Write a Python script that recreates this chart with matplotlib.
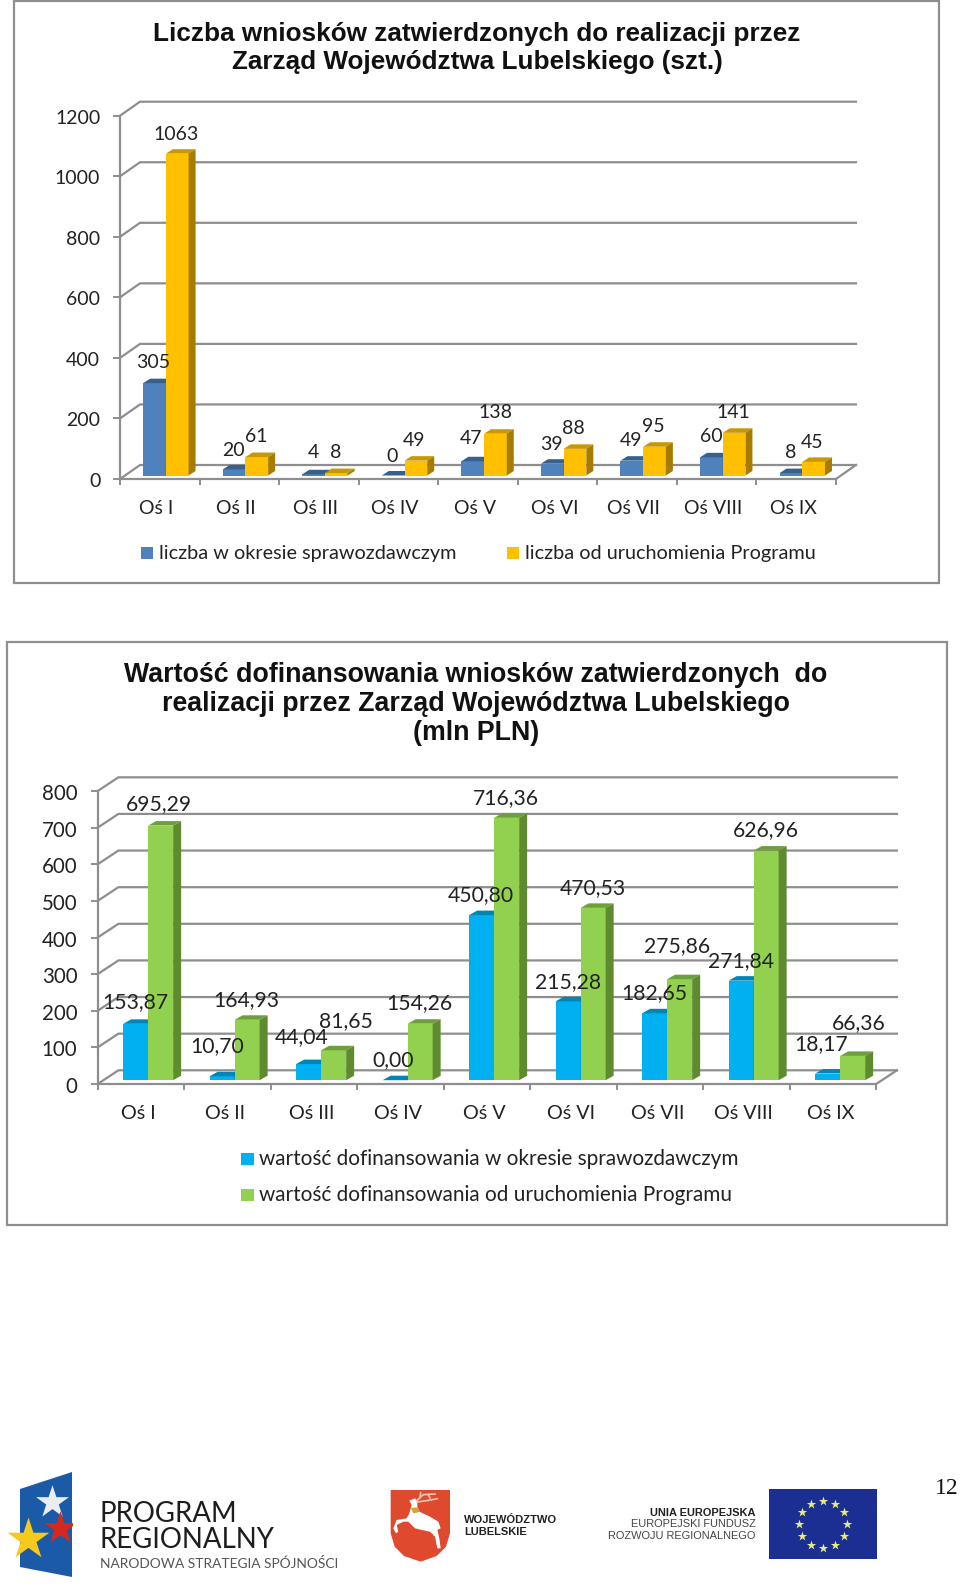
#!/usr/bin/env python3
"""Two pseudo-3D bar charts (Zarzad Wojewodztwa Lubelskiego) plus the footer logos."""
import matplotlib
matplotlib.use("Agg")
import matplotlib.pyplot as plt
from matplotlib.patches import Polygon, Rectangle
from matplotlib.transforms import ScaledTranslation
import numpy as np

W, H = 960, 1588
GRID = "#8e8e8e"
TEXT_COL = "#222222"

categories = ["Oś I", "Oś II", "Oś III", "Oś IV", "Oś V", "Oś VI", "Oś VII", "Oś VIII", "Oś IX"]

count_period = [305, 20, 4, 0, 47, 39, 49, 60, 8]
count_total = [1063, 61, 8, 49, 138, 88, 95, 141, 45]
count_ticks = [0, 200, 400, 600, 800, 1000, 1200]
count_legend = ["liczba w okresie sprawozdawczym", "liczba od uruchomienia Programu"]
count_title = ["Liczba wniosków zatwierdzonych do realizacji przez",
               "Zarząd Województwa Lubelskiego (szt.)"]

value_period = [153.87, 10.70, 44.04, 0.00, 450.80, 215.28, 182.65, 271.84, 18.17]
value_total = [695.29, 164.93, 81.65, 154.26, 716.36, 470.53, 275.86, 626.96, 66.36]
value_ticks = [0, 100, 200, 300, 400, 500, 600, 700, 800]
value_legend = ["wartość dofinansowania w okresie sprawozdawczym",
                "wartość dofinansowania od uruchomienia Programu"]
value_title = ["Wartość dofinansowania wniosków zatwierdzonych  do",
               "realizacji przez Zarząd Województwa Lubelskiego",
               "(mln PLN)"]

# hand-placed data label centres in the original (pixels)
count_lab_a = [(153, 362), (233, 450), (313, 453), (392, 456), (471, 439), (551, 444), (631, 440), (711, 436), (791, 452)]
count_lab_b = [(176, 134), (256, 437), (336, 452), (414, 441), (495, 413), (573, 428), (653, 427), (733, 413), (812, 442)]
value_lab_a = [(135, 1002), (217, 1046), (302, 1037), (393, 1060), (481, 895), (568, 982), (654, 993), (741, 961), (821, 1044)]
value_lab_b = [(159, 804), (246, 1000), (346, 1021), (419, 1003), (506, 798), (593, 888), (677, 946), (766, 830), (859, 1023)]

plt.rcParams["font.family"] = ["Lato", "DejaVu Sans"]
fig = plt.figure(figsize=(W / 100, H / 100), dpi=100, facecolor="white")

# overlay in pixel coords for frames, titles, legends, logos
ov = fig.add_axes([0, 0, 1, 1], zorder=5)
ov.set_xlim(0, W)
ov.set_ylim(H, 0)
ov.axis("off")
ov.patch.set_alpha(0)


def bars3d(ax, xs, vals, width, depth, base, front, top, side, zo):
    dx, dy = depth
    for x, v in zip(xs, vals):
        l, r = x, x + width
        t = base + v
        ax.bar(l, v, width=width, bottom=base, align="edge", color=front, zorder=zo, linewidth=0)
        ax.add_patch(Polygon([(l, t), (r, t), (r + dx, t + dy), (l + dx, t + dy)], fc=top, ec="none", zorder=zo))
        ax.add_patch(Polygon([(r, base), (r, t), (r + dx, t + dy), (r + dx, base + dy)], fc=side, ec="none", zorder=zo))


def chart(x0, step, y0, ytop, ticks, a, b, cols_a, cols_b, back, bar_w, bar_depth, mid_off, base_px, tick_size, cat_size, cat_shift, cat_pad, tick_pad):
    ymax = ticks[-1]
    ax = fig.add_axes([x0 / W, 1 - y0 / H, 9 * step / W, (y0 - ytop) / H], zorder=2)
    ax.set_xlim(0, 9)
    ax.set_ylim(0, ymax)
    ax.patch.set_alpha(0)
    px_x, px_y = 1 / step, ymax / (y0 - ytop)
    bdx, bdy = back[0] * px_x, back[1] * px_y

    # back wall + side wall lines
    for v in ticks:
        ax.plot([0, bdx, 9 + bdx], [v, v + bdy, v + bdy], color=GRID, lw=1.6, zorder=1, clip_on=False, solid_joinstyle="miter")
    ax.plot([9, 9 + bdx], [0, bdy], color=GRID, lw=1.6, zorder=1, clip_on=False)

    for s in ("top", "right"):
        ax.spines[s].set_visible(False)
    for s in ("left", "bottom"):
        ax.spines[s].set_color(GRID)
        ax.spines[s].set_linewidth(1.6)
    ax.set_yticks(ticks)
    ax.set_xticks(range(10))
    ax.set_xticklabels([])
    ax.set_xticks(np.arange(9) + 0.5 + cat_shift, minor=True)
    ax.set_xticklabels(categories, minor=True, fontsize=cat_size, color=TEXT_COL)
    ax.tick_params(axis="x", which="minor", length=0, pad=cat_pad)
    ax.tick_params(axis="x", which="major", length=4, width=1.4, color=GRID)
    ax.tick_params(axis="y", length=5, width=1.4, color=GRID, labelsize=tick_size, labelcolor=TEXT_COL, pad=tick_pad)
    # the tick numbers sit slightly below their ticks in the original
    nudge = ScaledTranslation(0, -1 / 100, fig.dpi_scale_trans)
    for lab in ax.get_yticklabels():
        lab.set_transform(lab.get_transform() + nudge)

    w = bar_w * px_x
    xs = np.arange(9) + 0.5 + mid_off * px_x
    depth = (bar_depth[0] * px_x, bar_depth[1] * px_y)
    base = base_px * px_y
    bars3d(ax, xs - w, a, w, depth, base, *cols_a, 3)
    bars3d(ax, xs, b, w, depth, base, *cols_b, 4)
    return ax


def val_text(v):
    return f"{v:.2f}".replace(".", ",")


chart(120, 79.55, 479, 115.7, count_ticks, count_period, count_total,
      ("#4F81BD", "#36618F", "#36618F"), ("#FFC000", "#C99700", "#A67C00"),
      (20, 14), 22.7, (7, 4.5), 6.1, 3.5, 14, 14, -0.04, 15, 9.2)
chart(97.7, 86.5, 1084, 791, value_ticks, value_period, value_total,
      ("#00B0F0", "#0085B5", "#0085B5"), ("#92D050", "#6F9E3C", "#5F8A30"),
      (20.7, 13.7), 25, (8, 4.5), 7.2, 3.8, 14.8, 14.2, -0.03, 15, 9.6)

# panel frames
for (x1, y1, x2, y2) in [(14, 0.5, 939, 583), (6.5, 642, 947, 1225)]:
    ov.add_patch(Rectangle((x1, y1), x2 - x1, y2 - y1, fc="none", ec="#8f8f8f", lw=1.6, zorder=0))

# titles
for y, s in zip([33.5, 62], count_title):
    ov.text(477, y, s, ha="center", va="center", family="Liberation Sans", weight="bold", fontsize=18.85, color="#111111")
for y, s in zip([675.5, 704, 733], value_title):
    ov.text(476, y, s, ha="center", va="center", family="Liberation Sans", weight="bold", fontsize=19.3, color="#111111")

# data labels
for pos, vals in ((count_lab_a, count_period), (count_lab_b, count_total)):
    for (x, y), v in zip(pos, vals):
        ov.text(x, y, str(v), ha="center", va="center", fontsize=14, color=TEXT_COL)
for pos, vals in ((value_lab_a, value_period), (value_lab_b, value_total)):
    for (x, y), v in zip(pos, vals):
        ov.text(x, y, val_text(v), ha="center", va="center", fontsize=15.2, color=TEXT_COL)

# legends
for xs, xt, y, c, s in [(141, 159, 553, "#4F81BD", count_legend[0]), (507, 525, 553, "#FFC000", count_legend[1])]:
    ov.add_patch(Rectangle((xs, y - 6), 12, 12, fc=c, ec="none"))
    ov.text(xt, y, s, va="center", fontsize=14.35, color=TEXT_COL)
for y, c, s in [(1159, "#00B0F0", value_legend[0]), (1195, "#92D050", value_legend[1])]:
    ov.add_patch(Rectangle((241, y - 6), 13, 12, fc=c, ec="none"))
    ov.text(259, y, s, va="center", fontsize=14.92, color=TEXT_COL)

# footer: programme logo
ov.add_patch(Polygon([(20, 1489), (72, 1472), (72, 1577), (20, 1567)], fc="#1B5AA6", ec="none"))
ov.scatter([52], [1502], marker="*", s=620, c="#E9ECF1", linewidths=0, zorder=3)
red = ov.scatter([60], [1528], marker="*", s=620, c="#D5281E", linewidths=0, zorder=3)
red.set_clip_path(Rectangle((20, 1470), 52, 110, transform=ov.transData))
ov.scatter([28], [1539], marker="*", s=1000, c="#F6C91A", linewidths=0, zorder=4)
ov.text(100, 1514, "PROGRAM", va="center", fontsize=19.9, color="#1d1d1b")
ov.text(100, 1540, "REGIONALNY", va="center", fontsize=19.9, color="#1d1d1b")
ov.text(100, 1563, "NARODOWA STRATEGIA SPÓJNOŚCI", va="center", fontsize=9.95, color="#555555")


def crest(points):
    return [(380 + x / 3, 1480 + y / 3) for x, y in points]


# footer: voivodeship arms
ov.add_patch(Polygon(crest([(32, 30), (210, 30), (210, 160), (198, 200), (170, 228), (122, 245),
                            (72, 228), (44, 200), (32, 160)]), fc="#DF4A2E", ec="none"))
ov.add_patch(Polygon(crest([(88, 62), (105, 55), (112, 62), (112, 80), (118, 95), (150, 110), (175, 125), (182, 145),
                            (172, 150), (178, 175), (182, 205), (172, 205), (165, 170), (150, 155), (125, 150),
                            (105, 145), (85, 125), (70, 125), (50, 135), (55, 155), (48, 160), (40, 145), (50, 120),
                            (80, 115), (88, 100), (95, 75)]), fc="white", ec="none"))
ov.add_patch(Polygon(crest([(92, 84), (112, 82), (120, 96), (100, 100)]), fc="#C9A93C", ec="none"))
for pts in ([(110, 62), (130, 44), (165, 42)], [(112, 66), (140, 62), (172, 56)], [(120, 52), (122, 38)], [(145, 44), (150, 54)]):
    ov.plot(*zip(*crest(pts)), color="#F2C8B4", lw=1.2)
ov.text(464, 1520, "WOJEWÓDZTWO", va="center", family="Liberation Sans", weight="bold", fontsize=8, color="#222222")
ov.text(464, 1532, "LUBELSKIE", va="center", family="Liberation Sans", weight="bold", fontsize=8, color="#222222")

# footer: EU fund text + flag
for y, s, wt, c in [(1513, "UNIA EUROPEJSKA", "bold", "#222222"), (1524, "EUROPEJSKI FUNDUSZ", "normal", "#444444"),
                    (1536, "ROZWOJU REGIONALNEGO", "normal", "#444444")]:
    ov.text(755.5, y, s, ha="right", va="center", family="Liberation Sans", weight=wt, fontsize=7.9, color=c)
ov.add_patch(Rectangle((769.3, 1489.3), 107.4, 69.7, fc="#1B2F92", ec="none"))
ang = np.deg2rad(np.arange(0, 360, 30))
ov.scatter(823 + 23.7 * np.cos(ang), 1524.3 + 23.7 * np.sin(ang), marker="*", s=50, c="#E9EA86", linewidths=0, zorder=3)

ov.text(958.5, 1489, "12", ha="right", va="center", family="Liberation Serif", fontsize=17, color="#111111")

fig.savefig("out.png", dpi=100)
plt.close(fig)
